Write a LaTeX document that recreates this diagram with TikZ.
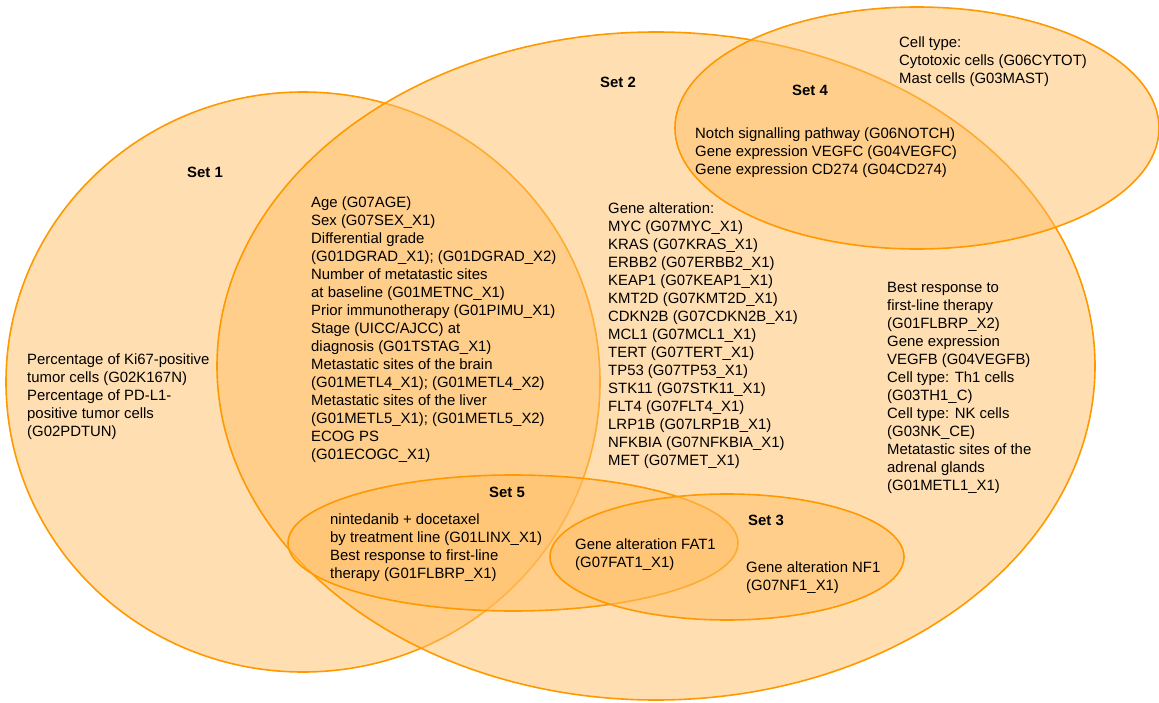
\documentclass[tikz,border=0pt]{standalone}
\usepackage{fontspec}
\setmainfont{Liberation Sans}
\usepackage{xcolor}
\definecolor{setorange}{RGB}{255,153,0}
\definecolor{setfill}{RGB}{255,190,100}

\begin{document}
\begin{tikzpicture}[x=1pt, y=-1pt,
  venn/.style={draw=setorange, fill=setfill, fill opacity=0.5, line width=1.6pt},
  setlabel/.style={font=\fontsize{14.9}{18}\selectfont\bfseries, inner sep=0pt},
  items/.style={font=\fontsize{14.9}{18}\selectfont, align=left, anchor=north west, inner sep=0pt}
]
  \useasboundingbox (0,0) rectangle (1159,703);

  \draw[venn] (303,382) ellipse [x radius=297, y radius=290];
  \draw[venn] (656,366) ellipse [x radius=439, y radius=334];
  \draw[venn] (917,128) ellipse [x radius=242, y radius=121];
  \draw[venn] (513,543) ellipse [x radius=225, y radius=68];
  \draw[venn] (727,557) ellipse [x radius=177, y radius=63];

  \node[setlabel] (set1) at (205,172) {Set 1};
  \node[setlabel] (set2) at (618,82) {Set 2};
  \node[setlabel] (set3) at (766,520) {Set 3};
  \node[setlabel] (set4) at (810,90) {Set 4};
  \node[setlabel] (set5) at (507,492) {Set 5};

  \node[items] (only1) at (27,353.5) {Percentage of Ki67-positive\\tumor cells (G02K167N)\\Percentage of PD-L1-\\positive tumor cells\\(G02PDTUN)};
  \node[items] (both12) at (311,196.5) {Age (G07AGE)\\Sex (G07SEX\_X1)\\Differential grade\\(G01DGRAD\_X1); (G01DGRAD\_X2)\\Number of metatastic sites\\at baseline (G01METNC\_X1)\\Prior immunotherapy (G01PIMU\_X1)\\Stage (UICC/AJCC) at\\diagnosis (G01TSTAG\_X1)\\Metastatic sites of the brain\\(G01METL4\_X1); (G01METL4\_X2)\\Metastatic sites of the liver\\(G01METL5\_X1); (G01METL5\_X2)\\ECOG PS\\(G01ECOGC\_X1)};
  \node[items] (genes2) at (608,202.5) {Gene alteration:\\MYC (G07MYC\_X1)\\KRAS (G07KRAS\_X1)\\ERBB2 (G07ERBB2\_X1)\\KEAP1 (G07KEAP1\_X1)\\KMT2D (G07KMT2D\_X1)\\CDKN2B (G07CDKN2B\_X1)\\MCL1 (G07MCL1\_X1)\\TERT (G07TERT\_X1)\\TP53 (G07TP53\_X1)\\STK11 (G07STK11\_X1)\\FLT4 (G07FLT4\_X1)\\LRP1B (G07LRP1B\_X1)\\NFKBIA (G07NFKBIA\_X1)\\MET (G07MET\_X1)};
  \node[items] (only2) at (887,282.5) {Best response to\\first-line therapy\\(G01FLBRP\_X2)\\Gene expression\\VEGFB (G04VEGFB)\\Cell type: Th1 cells\\(G03TH1\_C)\\Cell type: NK cells\\(G03NK\_CE)\\Metatastic sites of the\\adrenal glands\\(G01METL1\_X1)};
  \node[items] (only4) at (899,36.5) {Cell type:\\Cytotoxic cells (G06CYTOT)\\Mast cells (G03MAST)};
  \node[items] (both24) at (695,127.5) {Notch signalling pathway (G06NOTCH)\\Gene expression VEGFC (G04VEGFC)\\Gene expression CD274 (G04CD274)};
  \node[items] (both125) at (330,513.5) {nintedanib + docetaxel\\by treatment line (G01LINX\_X1)\\Best response to first-line\\therapy (G01FLBRP\_X1)};
  \node[items] (both235) at (575,538.5) {Gene alteration FAT1\\(G07FAT1\_X1)};
  \node[items] (both23) at (746,561.5) {Gene alteration NF1\\(G07NF1\_X1)};
\end{tikzpicture}
\end{document}
